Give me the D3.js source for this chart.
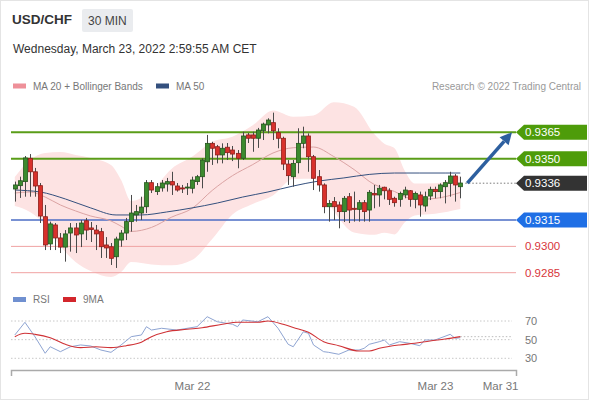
<!DOCTYPE html>
<html>
<head>
<meta charset="utf-8">
<script src="https://cdn.jsdelivr.net/npm/d3@7"></script>
<style>
  body { margin: 0; background: #fff; }
  svg { display: block; font-family: "Liberation Sans", Arial, sans-serif; }
</style>
</head>
<body>
<svg id="chart" width="590" height="400"></svg>
<script>
// 30 min candles, Mar 21 06:30 -> Mar 23 02:30 (index 0..88)
const opens = [
  0.93327, 0.93346, 0.93369, 0.93502, 0.93425, 0.93346, 0.93169, 0.93014, 0.93122, 0.93048,
  0.92996, 0.93076, 0.93105, 0.93071, 0.93146, 0.93105, 0.93093, 0.93084, 0.93008, 0.92998,
  0.92941, 0.93036, 0.93076, 0.93141, 0.93179, 0.93190, 0.93226, 0.93363, 0.93312, 0.93333,
  0.93355, 0.93369, 0.93344, 0.93333, 0.93333, 0.93331, 0.93369, 0.93397, 0.93482, 0.93587,
  0.93568, 0.93521, 0.93565, 0.93549, 0.93530, 0.93502, 0.93635, 0.93635, 0.93616, 0.93659,
  0.93692, 0.93705, 0.93648, 0.93616, 0.93469, 0.93397, 0.93477, 0.93587, 0.93629, 0.93511,
  0.93397, 0.93350, 0.93226, 0.93255, 0.93236, 0.93198, 0.93283, 0.93217, 0.93211, 0.93249,
  0.93207, 0.93302, 0.93293, 0.93337, 0.93317, 0.93274, 0.93268, 0.93293, 0.93317, 0.93268,
  0.93293, 0.93230, 0.93287, 0.93325, 0.93312, 0.93340, 0.93359, 0.93401, 0.93340
]
const highs = [
  0.93369, 0.93397, 0.93515, 0.93526, 0.93447, 0.93361, 0.93236, 0.93141, 0.93133, 0.93076,
  0.93093, 0.93133, 0.93133, 0.93150, 0.93162, 0.93139, 0.93122, 0.93105, 0.93053, 0.93019,
  0.93055, 0.93093, 0.93162, 0.93293, 0.93236, 0.93283, 0.93378, 0.93378, 0.93361, 0.93378,
  0.93390, 0.93425, 0.93361, 0.93350, 0.93361, 0.93397, 0.93407, 0.93502, 0.93635, 0.93596,
  0.93578, 0.93587, 0.93589, 0.93572, 0.93549, 0.93653, 0.93646, 0.93653, 0.93675, 0.93705,
  0.93730, 0.93762, 0.93673, 0.93625, 0.93492, 0.93492, 0.93673, 0.93682, 0.93644, 0.93521,
  0.93435, 0.93359, 0.93264, 0.93281, 0.93255, 0.93287, 0.93304, 0.93312, 0.93264, 0.93264,
  0.93321, 0.93350, 0.93350, 0.93340, 0.93331, 0.93283, 0.93312, 0.93340, 0.93321, 0.93312,
  0.93312, 0.93312, 0.93340, 0.93340, 0.93359, 0.93378, 0.93425, 0.93412, 0.93397
]
const lows = [
  0.93255, 0.93276, 0.93283, 0.93283, 0.93283, 0.93133, 0.92979, 0.92979, 0.92979, 0.92962,
  0.92913, 0.92970, 0.92962, 0.92996, 0.93036, 0.93025, 0.92979, 0.92934, 0.92934, 0.92894,
  0.92877, 0.92998, 0.93036, 0.93084, 0.93141, 0.93150, 0.93190, 0.93304, 0.93293, 0.93312,
  0.93312, 0.93293, 0.93312, 0.93304, 0.93293, 0.93302, 0.93350, 0.93331, 0.93425, 0.93464,
  0.93473, 0.93473, 0.93492, 0.93486, 0.93445, 0.93492, 0.93589, 0.93539, 0.93561, 0.93606,
  0.93644, 0.93606, 0.93559, 0.93435, 0.93350, 0.93340, 0.93416, 0.93559, 0.93425, 0.93321,
  0.93312, 0.93189, 0.93141, 0.93150, 0.93103, 0.93139, 0.93133, 0.93141, 0.93141, 0.93141,
  0.93141, 0.93217, 0.93226, 0.93268, 0.93236, 0.93226, 0.93226, 0.93274, 0.93226, 0.93217,
  0.93169, 0.93198, 0.93264, 0.93274, 0.93274, 0.93245, 0.93283, 0.93255, 0.93274
]
const closes = [
  0.93350, 0.93374, 0.93504, 0.93425, 0.93344, 0.93173, 0.93008, 0.93128, 0.93048, 0.92996,
  0.93071, 0.93105, 0.93065, 0.93133, 0.93093, 0.93096, 0.93071, 0.92998, 0.92991, 0.92932,
  0.93042, 0.93076, 0.93141, 0.93190, 0.93198, 0.93224, 0.93363, 0.93321, 0.93340, 0.93361,
  0.93369, 0.93350, 0.93321, 0.93327, 0.93338, 0.93378, 0.93397, 0.93492, 0.93587, 0.93559,
  0.93521, 0.93559, 0.93534, 0.93526, 0.93502, 0.93629, 0.93616, 0.93616, 0.93663, 0.93697,
  0.93720, 0.93659, 0.93616, 0.93469, 0.93403, 0.93473, 0.93587, 0.93629, 0.93511, 0.93388,
  0.93350, 0.93226, 0.93245, 0.93226, 0.93198, 0.93274, 0.93207, 0.93211, 0.93249, 0.93198,
  0.93308, 0.93293, 0.93331, 0.93317, 0.93268, 0.93249, 0.93302, 0.93321, 0.93268, 0.93302,
  0.93236, 0.93283, 0.93325, 0.93312, 0.93350, 0.93363, 0.93401, 0.93350, 0.93361
]

// MA 20 + Bollinger bands, read at some candle indexes
const bandIdx = [0, 3, 6, 9, 12, 15, 19, 21, 23, 27, 31, 35, 39, 43, 47, 51, 55, 59, 63, 67, 71, 73, 75, 77, 79, 83, 88]
const ma20Val = [0.93304, 0.93310, 0.93281, 0.93236, 0.93202, 0.93173, 0.93145, 0.93115, 0.93085, 0.93108, 0.93167, 0.93216, 0.93319, 0.93403, 0.93466, 0.93532, 0.93562, 0.93566, 0.93512, 0.93438, 0.93353, 0.93331, 0.93313, 0.93284, 0.93267, 0.93273, 0.93307]
const bbUpper = [0.93395, 0.93492, 0.93532, 0.93538, 0.93521, 0.93504, 0.93464, 0.93378, 0.93258, 0.93318, 0.93443, 0.93510, 0.93596, 0.93625, 0.93690, 0.93774, 0.93739, 0.93746, 0.93821, 0.93796, 0.93640, 0.93585, 0.93559, 0.93432, 0.93358, 0.93359, 0.93402]
const bbLower = [0.93230, 0.93196, 0.93122, 0.93002, 0.92911, 0.92860, 0.92826, 0.92854, 0.92911, 0.92897, 0.92892, 0.92922, 0.93042, 0.93182, 0.93242, 0.93290, 0.93384, 0.93386, 0.93202, 0.93079, 0.93066, 0.93077, 0.93068, 0.93136, 0.93176, 0.93186, 0.93213]

const ma50Idx = [0, 5, 10, 15, 20, 25, 30, 35, 40, 45, 50, 55, 60, 65, 70, 75, 80, 85, 88]
const ma50Val = [0.93321, 0.93310, 0.93270, 0.93219, 0.93179, 0.93179, 0.93196, 0.93219, 0.93247, 0.93281, 0.93310, 0.93344, 0.93372, 0.93390, 0.93410, 0.93418, 0.93418, 0.93418, 0.93418]

// RSI panel
const rsiIdx = [0, 2, 4, 6, 7, 9, 11, 13, 15, 17, 19, 21, 23, 25, 26, 27, 29, 32, 36, 38, 40, 43, 44, 45, 48, 50, 52, 54, 55, 57, 58, 59, 61, 62, 64, 66, 68, 69, 70, 72, 73, 74, 76, 78, 80, 81, 83, 86, 87, 88]
const rsiVal = [55.0, 68.6, 53, 35.4, 42.4, 37.1, 42.4, 44.3, 43.2, 38.9, 36.4, 44.3, 53.2, 55.0, 63.9, 60.3, 62.2, 60.3, 63.9, 74.6, 69.2, 66.5, 63.9, 71.1, 69.2, 74.6, 62.2, 45.0, 42.4, 58.5, 56.8, 44.3, 37.1, 36.4, 34.3, 38.9, 38.9, 40.7, 45.0, 47.8, 49.6, 44.3, 47.8, 46.1, 43.5, 49.6, 49.6, 55.7, 51.4, 52.1]
const ma9Idx = [0, 2, 4, 7, 10, 13, 16, 19, 22, 25, 27, 30, 34, 37, 41, 44, 48, 50, 53, 55, 58, 61, 64, 68, 70, 72, 76, 79, 82, 85, 88]
const ma9Val = [53.2, 56.8, 55.7, 52.1, 45.0, 41.4, 42.4, 41.4, 43.5, 47.2, 53.2, 58.5, 61.1, 62.8, 66.5, 68.6, 68.6, 70.0, 66.5, 63, 57.9, 47.8, 43.5, 37.8, 37.8, 40.7, 44.3, 46.1, 48.6, 50.7, 53.2]
const rsiLevels = [70, 50, 30]

// key levels
const levelValues = [0.9365, 0.9350, 0.9315, 0.9300, 0.9285]
const levelKinds = ['resistance', 'resistance', 'pivot', 'support', 'support']
const lastPrice = 0.9336

// x axis
const xTickIdx = [35, 83, 99]
const xTickLabels = ['Mar 22', 'Mar 23', 'Mar 31']

;(function drawChart() {
  const plotLeft = 11
  const plotRight = 516

  const x = d3.scaleLinear().domain([-0.75, 99]).range([plotLeft, plotRight])
  const y = d3.scaleLinear().domain([0.9285, 0.9365]).range([272.7, 132.3])
  const yRsi = d3.scaleLinear().domain([30, 70]).range([358.3, 321])

  const svg = d3.select('#chart')

  // frame
  svg.append('rect')
    .attr('x', 0.5).attr('y', 0.5).attr('width', 588).attr('height', 399)
    .attr('fill', '#fff').attr('stroke', '#e4e4e4')

  // header
  svg.append('text').attr('x', 12).attr('y', 24)
    .attr('font-size', 13.5).attr('font-weight', 'bold').attr('fill', '#333')
    .text('USD/CHF')
  svg.append('rect').attr('x', 82).attr('y', 9).attr('width', 51).attr('height', 23)
    .attr('rx', 2).attr('fill', '#eaecef')
  svg.append('text').attr('x', 88).attr('y', 24.5)
    .attr('font-size', 12).attr('fill', '#444')
    .text('30 MIN')
  svg.append('text').attr('x', 13).attr('y', 53)
    .attr('font-size', 12).attr('fill', '#333')
    .text('Wednesday, March 23, 2022 2:59:55 AM CET')

  // legend
  const legend = (items, ly) => {
    items.forEach(it => {
      svg.append('rect').attr('x', it.x).attr('y', ly - 2.5).attr('width', 13).attr('height', 5).attr('fill', it.color)
      svg.append('text').attr('x', it.x + 20).attr('y', ly + 3.5)
        .attr('font-size', 10).attr('fill', '#777').text(it.label)
    })
  }
  legend([
    {x: 13, color: '#ee9099', label: 'MA 20 + Bollinger Bands'},
    {x: 156, color: '#34507e', label: 'MA 50'}
  ], 86)
  svg.append('text').attr('x', 581).attr('y', 89.5).attr('text-anchor', 'end')
    .attr('font-size', 10).attr('fill', '#999')
    .text('Research \u00A9 2022 Trading Central')

  // bollinger band + moving averages
  const band = bandIdx.map((i, k) => ({i, up: bbUpper[k], lo: bbLower[k], mid: ma20Val[k]}))
  const ma50 = ma50Idx.map((i, k) => ({i, v: ma50Val[k]}))

  svg.append('path').datum(band)
    .attr('d', d3.area().x(d => x(d.i)).y0(d => y(d.lo)).y1(d => y(d.up)).curve(d3.curveMonotoneX))
    .attr('fill', '#fde3e3')

  // level lines
  const levelStyle = {
    resistance: {line: '#5a9d18', width: 2, box: '#4e9c0a'},
    pivot: {line: '#4b6dc4', width: 1.5, box: '#1f6fe5'},
    support: {line: '#f0a2a2', width: 1, text: '#d8353b'}
  }
  const levels = levelValues.map((v, k) => ({v, kind: levelKinds[k]}))

  svg.selectAll('line.level').data(levels).join('line')
    .attr('class', 'level')
    .attr('x1', plotLeft).attr('x2', plotRight)
    .attr('y1', d => y(d.v)).attr('y2', d => y(d.v))
    .attr('stroke', d => levelStyle[d.kind].line)
    .attr('stroke-width', d => levelStyle[d.kind].width)

  svg.append('path').datum(band)
    .attr('d', d3.line().x(d => x(d.i)).y(d => y(d.mid)).curve(d3.curveMonotoneX))
    .attr('fill', 'none').attr('stroke', '#dba3a3').attr('stroke-width', 1)

  svg.append('path').datum(ma50)
    .attr('d', d3.line().x(d => x(d.i)).y(d => y(d.v)).curve(d3.curveMonotoneX))
    .attr('fill', 'none').attr('stroke', '#34507e').attr('stroke-width', 1)

  // candles
  const candles = opens.map((o, i) => ({i, o, h: highs[i], l: lows[i], c: closes[i]}))
  const cg = svg.append('g')
  cg.selectAll('line').data(candles).join('line')
    .attr('x1', d => Math.round(x(d.i)) + 0.5).attr('x2', d => Math.round(x(d.i)) + 0.5)
    .attr('y1', d => y(d.h)).attr('y2', d => y(d.l))
    .attr('stroke', '#4a4a4a').attr('stroke-width', 1)
  cg.selectAll('rect').data(candles).join('rect')
    .attr('x', d => Math.round(x(d.i)) - 1.5)
    .attr('y', d => y(Math.max(d.o, d.c)))
    .attr('width', 4)
    .attr('height', d => Math.max(1, Math.abs(y(d.o) - y(d.c))))
    .attr('fill', d => d.c >= d.o ? '#3c8a2e' : '#d8312c')
    .attr('stroke', d => d.c >= d.o ? '#24561c' : '#8f1d19')
    .attr('stroke-width', 0.8)

  // current price dotted line
  const lastI = candles.length - 1
  svg.append('line')
    .attr('x1', x(lastI) + 5).attr('x2', plotRight)
    .attr('y1', y(lastPrice)).attr('y2', y(lastPrice))
    .attr('stroke', '#777').attr('stroke-dasharray', '1.5,2')

  // forecast arrow
  const ax1 = x(lastI) + 7, ay1 = y(lastPrice)
  const ax2 = plotRight - 4, ay2 = y(levelValues[0])
  const ang = Math.atan2(ay2 - ay1, ax2 - ax1)
  const headLen = 12, headW = 6
  const bx = ax2 - headLen * Math.cos(ang), by = ay2 - headLen * Math.sin(ang)
  svg.append('line')
    .attr('x1', ax1).attr('y1', ay1).attr('x2', bx).attr('y2', by)
    .attr('stroke', '#2d5f9f').attr('stroke-width', 3.5)
  svg.append('path')
    .attr('d', `M${ax2},${ay2}L${bx + headW * Math.sin(ang)},${by - headW * Math.cos(ang)}L${bx - headW * Math.sin(ang)},${by + headW * Math.cos(ang)}Z`)
    .attr('fill', '#2d5f9f')

  // price tags
  const tag = (v, fill) => {
    const yc = y(v)
    svg.append('path')
      .attr('d', `M${plotRight},${yc}L${plotRight + 8},${yc - 7.5}H587V${yc + 7.5}H${plotRight + 8}Z`)
      .attr('fill', fill)
    svg.append('text').attr('x', 525).attr('y', yc + 4)
      .attr('font-size', 11.5).attr('fill', '#fff').text(v.toFixed(4))
  }
  levels.forEach(d => {
    if (levelStyle[d.kind].box) tag(d.v, levelStyle[d.kind].box)
    else {
      svg.append('text').attr('x', 525).attr('y', y(d.v) + 4)
        .attr('font-size', 11.5).attr('fill', levelStyle[d.kind].text).text(d.v.toFixed(4))
    }
  })
  tag(lastPrice, '#333')

  // RSI panel
  legend([
    {x: 13, color: '#7090d0', label: 'RSI'},
    {x: 63, color: '#d3262c', label: '9MA'}
  ], 299.5)

  svg.selectAll('line.rsi-level').data(rsiLevels).join('line')
    .attr('class', 'rsi-level')
    .attr('x1', plotLeft).attr('x2', 512)
    .attr('y1', d => yRsi(d)).attr('y2', d => yRsi(d))
    .attr('stroke', '#c8c8c8').attr('stroke-dasharray', '1.5,2')
  svg.selectAll('text.rsi-label').data(rsiLevels).join('text')
    .attr('class', 'rsi-label')
    .attr('x', 525).attr('y', d => yRsi(d) + 4)
    .attr('font-size', 11).attr('fill', '#777').text(d => d)

  const rsi = rsiIdx.map((i, k) => ({i, v: rsiVal[k]}))
  const ma9 = ma9Idx.map((i, k) => ({i, v: ma9Val[k]}))

  svg.append('line')
    .attr('x1', x(lastI)).attr('x2', 512)
    .attr('y1', yRsi(ma9Val[ma9Val.length - 1])).attr('y2', yRsi(ma9Val[ma9Val.length - 1]))
    .attr('stroke', '#bbb').attr('stroke-dasharray', '1.5,2')

  svg.append('path').datum(rsi)
    .attr('d', d3.line().x(d => x(d.i)).y(d => yRsi(d.v)))
    .attr('fill', 'none').attr('stroke', '#8ea4d2').attr('stroke-width', 1)
  svg.append('path').datum(ma9)
    .attr('d', d3.line().x(d => x(d.i)).y(d => yRsi(d.v)).curve(d3.curveMonotoneX))
    .attr('fill', 'none').attr('stroke', '#cf3236').attr('stroke-width', 1.1)

  // x axis
  const xAxis = d3.axisBottom(x)
    .tickValues(xTickIdx)
    .tickFormat((d, k) => xTickLabels[k])
    .tickSizeInner(0)
    .tickSizeOuter(6)
    .tickPadding(12)
  const axisG = svg.append('g').attr('transform', 'translate(0,370)').call(xAxis)
  axisG.select('.domain').attr('stroke', '#aaa').attr('stroke-width', 1.5)
  axisG.selectAll('text').attr('font-size', 11.5).attr('fill', '#777')
    .attr('font-family', '"Liberation Sans", Arial, sans-serif')
  axisG.selectAll('.tick').filter(d => d === xTickIdx[xTickIdx.length - 1])
    .select('text').attr('text-anchor', 'end').attr('dx', 2)
})()
</script>
</body>
</html>
